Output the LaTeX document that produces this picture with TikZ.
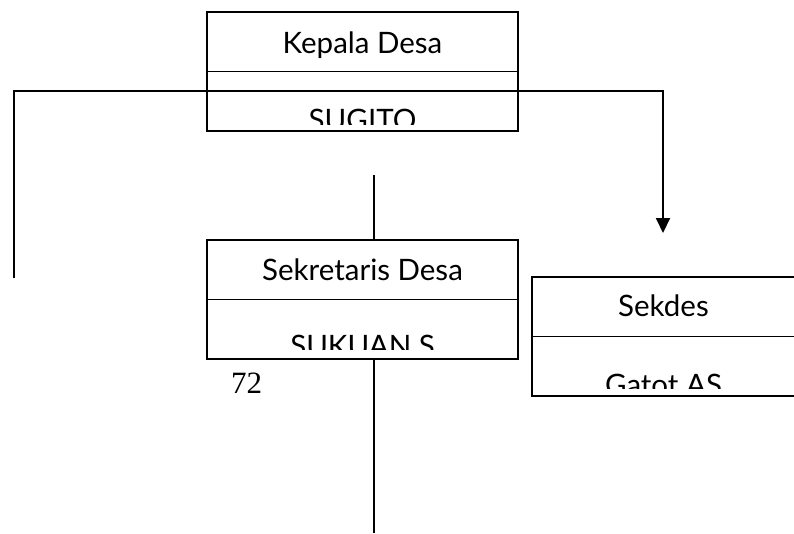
\documentclass[tikz,border=0pt]{standalone}
\usepackage{fontspec}
\setmainfont{Lato}
\newfontfamily\numfont{Liberation Serif}
\usetikzlibrary{arrows.meta,calc}

\begin{document}
\begin{tikzpicture}[x=1pt, y=-1pt,
  box/.style={draw, line width=1.8pt, minimum width=311pt, minimum height=119pt, inner sep=0pt},
  txt/.style={anchor=base, inner sep=0pt, font=\fontsize{29.5}{34}\selectfont},
  conn/.style={line width=1.9pt}]
  \useasboundingbox (0,0) rectangle (794,533);

  % Boxes
  \node[box] (kades)   at (362.5,71.5)  {};
  \node[box] (sekdesa) at (362.5,299.5) {};
  \node[box, minimum width=264pt] (sekdes) at (664,336.5) {};

  % Dividers
  \draw[line width=1.8pt] (kades.west)   -- (kades.east);
  \draw[line width=1.8pt] (sekdesa.west) -- (sekdesa.east);
  \draw[line width=1.8pt] (sekdes.west)  -- (sekdes.east);

  % Titles
  \node[txt] (kadesT)   at (362.5,53)  {Kepala Desa};
  \node[txt] (sekdesaT) at (362.5,280) {Sekretaris Desa};
  \node[txt] (sekdesT)  at (663.5,316) {Sekdes};

  % Names, cut by the box
  \begin{scope}
    \clip (207,72) rectangle (518,124);
    \node[txt] (kadesN) at (362.5,130) {SUGITO};
  \end{scope}
  \begin{scope}
    \clip (207,300) rectangle (518,349);
    \node[txt] (sekdesaN) at (362.5,356) {SUKUAN S};
  \end{scope}
  \begin{scope}
    \clip (533,337) rectangle (794,388);
    \node[txt] (sekdesN) at (663.5,395) {Gatot AS};
  \end{scope}

  \node[anchor=base, inner sep=0pt, font=\numfont\fontsize{31}{36}\selectfont] (page) at (246.5,393) {72};

  % Lines
  \coordinate (lend) at (14,278);
  \coordinate (rtop) at (663,91);
  \coordinate (rend) at (663,233);
  \draw[conn, -{Triangle[length=15pt, width=14pt]}] (lend) |- (rtop) -- (rend);

  \coordinate (mtop) at (374,175);
  \coordinate (mbot) at (374,533);
  \draw[conn] (mtop) -- (mtop |- sekdesa.north);
  \draw[conn] (mbot |- sekdesa.south) -- (mbot);

\end{tikzpicture}
\end{document}
